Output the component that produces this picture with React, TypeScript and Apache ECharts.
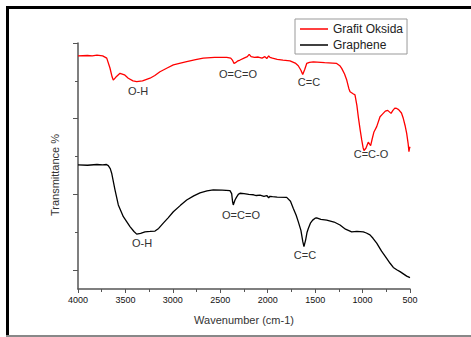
import React, { useEffect, useRef } from "react";
import * as echarts from "echarts";

const FONT = "'Liberation Sans', Arial, sans-serif";

const seriesNames = ["Grafit Oksida", "Graphene"];

// [wavenumber, transmittance (arbitrary units)]
const grafitOksida: number[][] = [
  [4000, 6.16], [3900, 6.17], [3850, 6.16], [3800, 6.18], [3740, 6.16], [3697, 6.1], [3663, 5.84],
  [3640, 5.6], [3628, 5.52], [3600, 5.6], [3557, 5.7], [3510, 5.66], [3470, 5.57], [3420, 5.5],
  [3381, 5.48], [3320, 5.5], [3241, 5.57], [3190, 5.64], [3136, 5.74], [3060, 5.84], [2995, 5.92],
  [2920, 5.97], [2854, 6.01], [2760, 6.06], [2679, 6.1], [2560, 6.12], [2432, 6.12], [2390, 6.1],
  [2370, 6.04], [2355, 5.96], [2340, 5.98], [2320, 6.02], [2292, 6.05], [2250, 6.1], [2215, 6.14],
  [2195, 6.2], [2175, 6.14], [2140, 6.12], [2100, 6.13], [2060, 6.1], [2030, 6.14], [2010, 6.09],
  [1990, 6.16], [1976, 6.12], [1950, 6.1], [1900, 6.07], [1839, 6.05], [1765, 6.03], [1710, 5.97],
  [1678, 5.9], [1650, 5.78], [1631, 5.67], [1610, 5.8], [1589, 5.96], [1560, 5.99], [1519, 6.0],
  [1400, 5.98], [1273, 5.96], [1240, 5.9], [1220, 5.83], [1190, 5.68], [1167, 5.52], [1145, 5.3],
  [1132, 5.21], [1100, 5.16], [1080, 5.13], [1060, 4.85], [1045, 4.55], [1025, 4.2], [1009, 3.94],
  [995, 3.74], [985, 3.66], [965, 3.72], [940, 3.88], [915, 3.79], [900, 3.95], [880, 4.15],
  [851, 4.29], [816, 4.55], [790, 4.62], [760, 4.7], [735, 4.72], [700, 4.64], [680, 4.72],
  [660, 4.78], [640, 4.77], [620, 4.74], [590, 4.65], [571, 4.51], [550, 4.3], [535, 4.11],
  [520, 3.85], [511, 3.63], [505, 3.72], [500, 3.76],
];

const graphene: number[][] = [
  [4000, 3.28], [3900, 3.27], [3800, 3.29], [3740, 3.28], [3700, 3.29], [3681, 3.26], [3660, 3.18],
  [3645, 3.06], [3610, 2.62], [3575, 2.22], [3522, 1.91], [3452, 1.65], [3410, 1.52], [3381, 1.45],
  [3340, 1.47], [3294, 1.51], [3240, 1.52], [3188, 1.53], [3150, 1.6], [3101, 1.74], [3050, 1.88],
  [2995, 2.04], [2920, 2.21], [2854, 2.35], [2780, 2.46], [2714, 2.54], [2640, 2.59], [2574, 2.62],
  [2480, 2.61], [2398, 2.6], [2380, 2.52], [2370, 2.3], [2363, 2.22], [2345, 2.35], [2330, 2.42],
  [2310, 2.5], [2292, 2.53], [2250, 2.52], [2200, 2.5], [2150, 2.49], [2120, 2.47], [2081, 2.48],
  [2040, 2.45], [2010, 2.47], [1990, 2.41], [1976, 2.45], [1950, 2.44], [1900, 2.43], [1800, 2.42],
  [1760, 2.32], [1730, 2.13], [1700, 1.95], [1678, 1.78], [1650, 1.55], [1630, 1.25], [1618, 1.12],
  [1600, 1.3], [1585, 1.5], [1572, 1.6], [1550, 1.74], [1526, 1.82], [1500, 1.87], [1484, 1.88],
  [1440, 1.84], [1378, 1.82], [1300, 1.77], [1238, 1.69], [1180, 1.58], [1115, 1.51], [1060, 1.52],
  [992, 1.51], [960, 1.48], [922, 1.43], [890, 1.34], [851, 1.21], [800, 1.0], [746, 0.81],
  [710, 0.68], [676, 0.57], [640, 0.51], [605, 0.46], [570, 0.4], [535, 0.34], [500, 0.3],
];

const majorYTicks = [0.5, 2.5, 4.5, 6.5];
const minorYTicks = [1.5, 3.5, 5.5];

// annotation labels: [text, x(px), y(px)]
const annotations: [string, number, number][] = [
  ["O-H", 138, 91],
  ["O=C=O", 238, 74],
  ["C=C", 309, 82],
  ["C=C-O", 371, 154],
  ["O-H", 142, 243],
  ["O=C=O", 241, 215],
  ["C=C", 305, 255],
];

export default function App() {
  const ref = useRef<HTMLDivElement>(null);
  useEffect(() => {
    if (!ref.current) return;
    const chart = echarts.init(ref.current, null, { renderer: "svg" });
    const axisColor = "#555";
    chart.setOption({
      animation: false,
      backgroundColor: "#fff",
      textStyle: { fontFamily: FONT },
      grid: { left: 78, right: 61, top: 43, bottom: 48, containLabel: false },
      legend: {
        orient: "vertical",
        left: 295,
        top: 19,
        padding: [4, 4, 3, 5],
        itemGap: 4,
        itemWidth: 28,
        itemHeight: 1.5,
        icon: "rect",
        borderColor: "#999",
        borderWidth: 1,
        data: seriesNames,
        textStyle: { fontSize: 12, lineHeight: 12, color: "#222", fontFamily: FONT },
      },
      xAxis: {
        type: "value",
        min: 500,
        max: 4000,
        interval: 500,
        inverse: true,
        name: "Wavenumber (cm-1)",
        nameLocation: "middle",
        nameGap: 25,
        nameTextStyle: { fontSize: 11, color: "#333", fontFamily: FONT },
        axisLine: { show: true, lineStyle: { color: axisColor, width: 1.5 } },
        axisTick: { show: true, length: 4, lineStyle: { color: axisColor } },
        minorTick: { show: true, splitNumber: 2, length: 3, lineStyle: { color: axisColor } },
        axisLabel: {
          fontSize: 9,
          color: "#111",
          margin: 6,
          fontFamily: FONT,
          formatter: (v: number) => String(v),
        },
        splitLine: { show: false },
      },
      yAxis: [
        {
          type: "value",
          min: 0,
          max: 6.5,
          axisLine: { show: true, lineStyle: { color: axisColor, width: 1.5 } },
          axisTick: { show: true, length: 5, customValues: majorYTicks, lineStyle: { color: axisColor } },
          axisLabel: { show: false },
          splitLine: { show: false },
        },
        {
          type: "value",
          min: 0,
          max: 6.5,
          position: "left",
          axisLine: { show: false },
          axisTick: { show: true, length: 3, customValues: minorYTicks, lineStyle: { color: axisColor } },
          axisLabel: { show: false },
          splitLine: { show: false },
        },
      ],
      series: [
        {
          name: seriesNames[0],
          type: "line",
          data: grafitOksida,
          showSymbol: false,
          symbol: "none",
          lineStyle: { color: "#ff0000", width: 1.3 },
          itemStyle: { color: "#ff0000" },
        },
        {
          name: seriesNames[1],
          type: "line",
          data: graphene,
          showSymbol: false,
          symbol: "none",
          lineStyle: { color: "#000", width: 1.3 },
          itemStyle: { color: "#000" },
        },
      ],
      graphic: [
        { type: "rect", shape: { x: 6, y: 6, width: 465, height: 3 }, style: { fill: "#000" }, silent: true },
        { type: "rect", shape: { x: 6, y: 6, width: 3, height: 330 }, style: { fill: "#000" }, silent: true },
        { type: "rect", shape: { x: 6, y: 335, width: 465, height: 2 }, style: { fill: "#888" }, silent: true },
        {
          type: "text",
          x: 55,
          y: 175,
          rotation: Math.PI / 2,
          style: {
            text: "Transmittance %",
            fill: "#333",
            fontSize: 11,
            fontFamily: FONT,
            align: "center",
            verticalAlign: "middle",
          },
        },
        ...annotations.map(([t, x, y]) => ({
          type: "text",
          x,
          y,
          style: {
            text: t,
            fill: "#333",
            fontSize: 11,
            fontFamily: FONT,
            align: "center",
            verticalAlign: "middle",
          },
        })),
      ],
    });
    return () => chart.dispose();
  }, []);
  return (
    <div
      ref={ref}
      style={{ position: "fixed", left: 0, top: 0, width: 471, height: 337, background: "#fff" }}
    />
  );
}
